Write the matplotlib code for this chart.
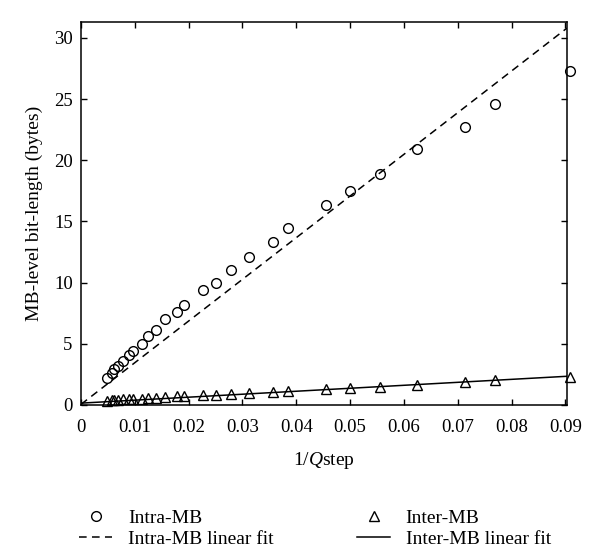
import matplotlib
matplotlib.use("Agg")
import matplotlib.pyplot as plt
import numpy as np

# 1/Qstep values (H.264 quantizer steps)
inv_qstep = [0.0909, 0.0769, 0.0714, 0.0625, 0.0556, 0.0500, 0.0455, 0.0385,
             0.0357, 0.03125, 0.0278, 0.0250, 0.0227, 0.0192, 0.0179, 0.0156,
             0.0139, 0.0125, 0.0114, 0.0096, 0.0089, 0.0078, 0.0069, 0.0062,
             0.0057, 0.0048]

intra_bytes = [27.3, 24.6, 22.7, 20.9, 18.9, 17.5, 16.3, 14.5,
               13.3, 12.1, 11.0, 10.0, 9.4, 8.2, 7.6, 7.0,
               6.1, 5.6, 5.0, 4.4, 4.1, 3.6, 3.2, 2.9,
               2.6, 2.2]

inter_bytes = [2.3, 2.0, 1.85, 1.65, 1.5, 1.4, 1.3, 1.15,
               1.1, 1.0, 0.9, 0.85, 0.8, 0.75, 0.7, 0.65,
               0.6, 0.55, 0.5, 0.5, 0.45, 0.45, 0.4, 0.4,
               0.4, 0.35]

# linear fits: slope, intercept
intra_fit = (340.5, 0.05)
inter_fit = (24.3, 0.15)

plt.rcParams['font.family'] = 'Liberation Serif'
plt.rcParams['mathtext.fontset'] = 'custom'
plt.rcParams['mathtext.rm'] = 'Liberation Serif'
plt.rcParams['mathtext.it'] = 'Liberation Serif:italic'

fig = plt.figure(figsize=(6.0, 5.48), dpi=100)
ax = fig.add_axes([0.135, 0.261, 0.81, 0.699])

xmax = 0.0903
xs = np.array([0, xmax])

ax.plot(inv_qstep, intra_bytes, 'o', ms=7, mfc='none', mec='black', mew=1.0,
        label='Intra-MB', clip_on=False)
ax.plot(xs, intra_fit[0] * xs + intra_fit[1], '--', color='black', lw=1.1,
        dashes=(5, 3.5), label='Intra-MB linear fit')
ax.plot(inv_qstep, inter_bytes, '^', ms=7.5, mfc='none', mec='black', mew=1.0,
        label='Inter-MB', clip_on=False)
ax.plot(xs, inter_fit[0] * xs + inter_fit[1], '-', color='black', lw=1.1,
        label='Inter-MB linear fit')

ax.set_xlim(0, xmax)
ax.set_ylim(0, 31.3)
ax.set_xticks(np.arange(0, 0.091, 0.01))
ax.set_xticklabels(['0'] + [f'{v:.2f}' for v in np.arange(0.01, 0.091, 0.01)])
ax.set_yticks(np.arange(0, 31, 5))
ax.tick_params(direction='in', length=4, width=1, top=True, right=True,
               labelsize=13.5)
ax.tick_params(axis='x', pad=10)
ax.tick_params(axis='y', pad=6)
for s in ax.spines.values():
    s.set_linewidth(1.1)

ax.set_xlabel('1/$Q$step', fontsize=14, labelpad=10)
ax.set_ylabel('MB-level bit-length (bytes)', fontsize=14, labelpad=8)

handles, labels = ax.get_legend_handles_labels()
fig.legend(handles, labels, loc='upper left', bbox_to_anchor=(0.132, 0.071),
           ncol=2, frameon=False, fontsize=14, handlelength=1.7,
           columnspacing=4.3, labelspacing=0.2, handletextpad=0.8,
           borderpad=0, borderaxespad=0)

fig.savefig('out.png', dpi=100)
